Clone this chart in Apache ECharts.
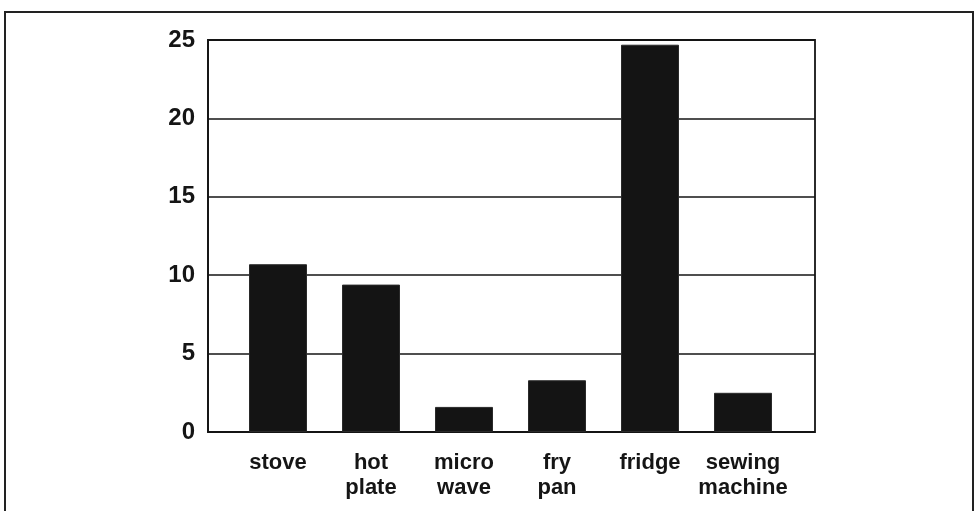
<!DOCTYPE html>
<html>
<head>
<meta charset="utf-8">
<script src="https://cdn.jsdelivr.net/npm/echarts@6/dist/echarts.min.js"></script>
<style>
  html, body { margin: 0; padding: 0; background: #fff; }
  #chart { width: 979px; height: 511px; }
</style>
</head>
<body>
<div id="chart"></div>
<script>
// Appliance categories (two-line labels) and their values
const categories = ['stove', 'hot\nplate', 'micro\nwave', 'fry\npan', 'fridge', 'sewing\nmachine'];
const values = [10.7, 9.4, 1.6, 3.3, 24.7, 2.5];
const yTicks = [0, 5, 10, 15, 20, 25];

const FONT = '"Liberation Sans", Arial, Helvetica, sans-serif';
const INK = '#151515';

const chart = echarts.init(document.getElementById('chart'), null, { renderer: 'canvas' });

chart.setOption({
  backgroundColor: '#ffffff',
  animation: false,
  graphic: [{
    // outer box around the whole figure
    type: 'rect',
    shape: { x: 5, y: 12, width: 968, height: 510 },
    style: { fill: 'none', stroke: '#222', lineWidth: 2 },
    silent: true
  }],
  grid: [
    // frame, gridlines and value labels
    { left: 208, right: 164, top: 40, bottom: 79, show: true,
      borderColor: INK, borderWidth: 1.8, backgroundColor: 'transparent' },
    // bars and category labels
    { left: 231.5, right: 189.5, top: 40, bottom: 79 }
  ],
  xAxis: [
    { gridIndex: 0, type: 'category', data: categories, show: false },
    { gridIndex: 1, type: 'category', data: categories,
      axisLine: { show: false }, axisTick: { show: false },
      axisLabel: { color: INK, fontFamily: FONT, fontWeight: 'bold', fontSize: 22,
                   lineHeight: 25, margin: 18, interval: 0 } }
  ],
  yAxis: [
    { gridIndex: 0, type: 'value', min: yTicks[0], max: yTicks[yTicks.length - 1], interval: 5,
      axisLine: { show: true, lineStyle: { color: INK, width: 1.8 } },
      axisTick: { show: false },
      axisLabel: { color: INK, fontFamily: FONT, fontWeight: 'bold', fontSize: 24, margin: 13 },
      splitLine: { show: true, lineStyle: { color: INK, width: 1.6 } } },
    { gridIndex: 1, type: 'value', min: yTicks[0], max: yTicks[yTicks.length - 1], show: false }
  ],
  series: [{
    type: 'bar',
    xAxisIndex: 1,
    yAxisIndex: 1,
    data: values,
    barWidth: 58,
    itemStyle: { color: '#141414', borderColor: '#2a2a2a', borderWidth: 1 },
    silent: true
  }]
});
</script>
</body>
</html>
